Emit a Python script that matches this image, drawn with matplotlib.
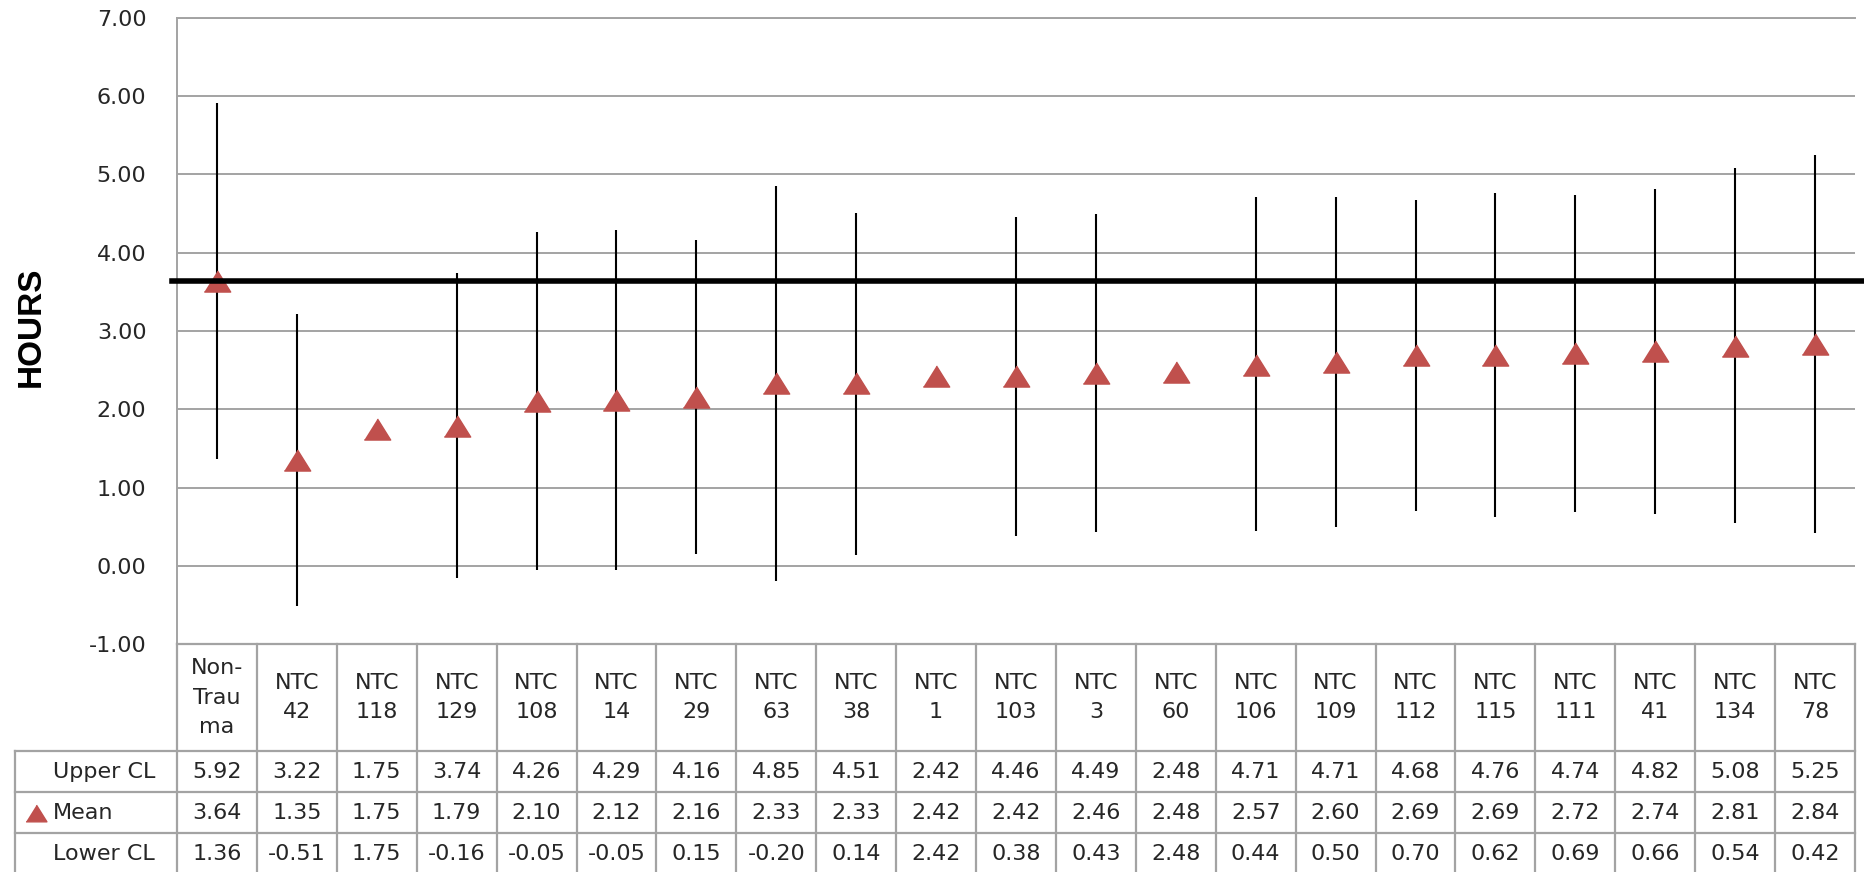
import textwrap
import matplotlib.pyplot as plt

categories = ["Non-Trauma", "NTC 42", "NTC 118", "NTC 129", "NTC 108", "NTC 14", "NTC 29",
              "NTC 63", "NTC 38", "NTC 1", "NTC 103", "NTC 3", "NTC 60", "NTC 106",
              "NTC 109", "NTC 112", "NTC 115", "NTC 111", "NTC 41", "NTC 134", "NTC 78"]
upper_cl = [5.92, 3.22, 1.75, 3.74, 4.26, 4.29, 4.16, 4.85, 4.51, 2.42, 4.46,
            4.49, 2.48, 4.71, 4.71, 4.68, 4.76, 4.74, 4.82, 5.08, 5.25]
mean = [3.64, 1.35, 1.75, 1.79, 2.10, 2.12, 2.16, 2.33, 2.33, 2.42, 2.42,
        2.46, 2.48, 2.57, 2.60, 2.69, 2.69, 2.72, 2.74, 2.81, 2.84]
lower_cl = [1.36, -0.51, 1.75, -0.16, -0.05, -0.05, 0.15, -0.20, 0.14, 2.42, 0.38,
            0.43, 2.48, 0.44, 0.50, 0.70, 0.62, 0.69, 0.66, 0.54, 0.42]
row_names = ["Upper CL", "Mean", "Lower CL"]
y_ticks = [-1, 0, 1, 2, 3, 4, 5, 6, 7]

W, H = 1864, 872
red = "#c0504d"
grid_gray = "#a3a3a3"
txt = "#262626"
fs = 16
tri = [(-1, -0.8), (1, -0.8), (0, 0.8)]

fig = plt.figure(figsize=(W / 100, H / 100), dpi=100)

# plot area in pixels
px_left, px_right = 177, 1855
px_top, px_bottom = 18, 644
ax = fig.add_axes([px_left / W, 1 - px_bottom / H,
                   (px_right - px_left) / W, (px_bottom - px_top) / H])

n = len(categories)
x = list(range(n))
ax.set_xlim(-0.5, n - 0.5)
ax.set_ylim(y_ticks[0], y_ticks[-1])
ax.set_yticks(y_ticks)
ax.set_yticklabels([f"{v:.2f}" for v in y_ticks])
ax.set_xticks([])
ax.tick_params(axis="y", length=0, pad=22, labelsize=fs, labelcolor=txt)
ax.grid(axis="y", color=grid_gray, lw=1.4)
ax.set_axisbelow(True)
for s in ["left", "top", "bottom"]:
    ax.spines[s].set_color(grid_gray)
    ax.spines[s].set_linewidth(1.4)
ax.spines["right"].set_visible(False)

ax.vlines(x, lower_cl, upper_cl, color="black", lw=1.5, zorder=2)
ax.plot(x, mean, ls="none", marker=tri, ms=19, color=red, zorder=3)
ax.axhline(mean[0], xmin=-0.003, xmax=1.006, color="black", lw=4, clip_on=False, zorder=4)

fig.text(31 / W, 1 - 327 / H, "HOURS", rotation=90, ha="center", va="center",
         fontsize=24, fontweight="bold", family="Liberation Sans")

# data table below the plot, drawn in pixel units
tab = fig.add_axes([px_left / W, 0, (px_right - px_left) / W, (H - px_bottom) / H])
tab.set_xlim(-0.5, n - 0.5)
tab.set_ylim(H - px_bottom, 0)
tab.axis("off")

col_w = (px_right - px_left) / n
label_left = -0.5 - (px_left - 15) / col_w
head_h = 107
row_h = 41
bottom = head_h + 3 * row_h
line_kw = dict(color=grid_gray, lw=1.6, clip_on=False)

# vertical cell borders
for i in range(n + 1):
    tab.plot([i - 0.5, i - 0.5], [0, bottom], **line_kw)
tab.plot([label_left, label_left], [head_h, bottom], **line_kw)
# horizontal borders
tab.plot([-0.5, n - 0.5], [0, 0], **line_kw)
for r in range(4):
    yy = head_h + r * row_h
    tab.plot([label_left, n - 0.5], [yy, yy], **line_kw)

for i, name in enumerate(categories):
    tab.text(i, head_h / 2, "\n".join(textwrap.wrap(name, 4)), ha="center", va="center",
             fontsize=fs, color=txt, linespacing=1.62, clip_on=False)

rows = [upper_cl, mean, lower_cl]
for r, (name, vals) in enumerate(zip(row_names, rows)):
    yc = head_h + (r + 0.5) * row_h
    tab.text(label_left + 38 / col_w, yc, name, ha="left", va="center",
             fontsize=fs, color=txt, clip_on=False)
    for i, v in enumerate(vals):
        tab.text(i, yc, f"{v:.2f}", ha="center", va="center", fontsize=fs, color=txt,
                 clip_on=False)
    if name == "Mean":
        tab.plot([label_left + 21 / col_w], [yc], ls="none", marker=tri, ms=15,
                 color=red, clip_on=False)

fig.savefig("out.png", dpi=100)
